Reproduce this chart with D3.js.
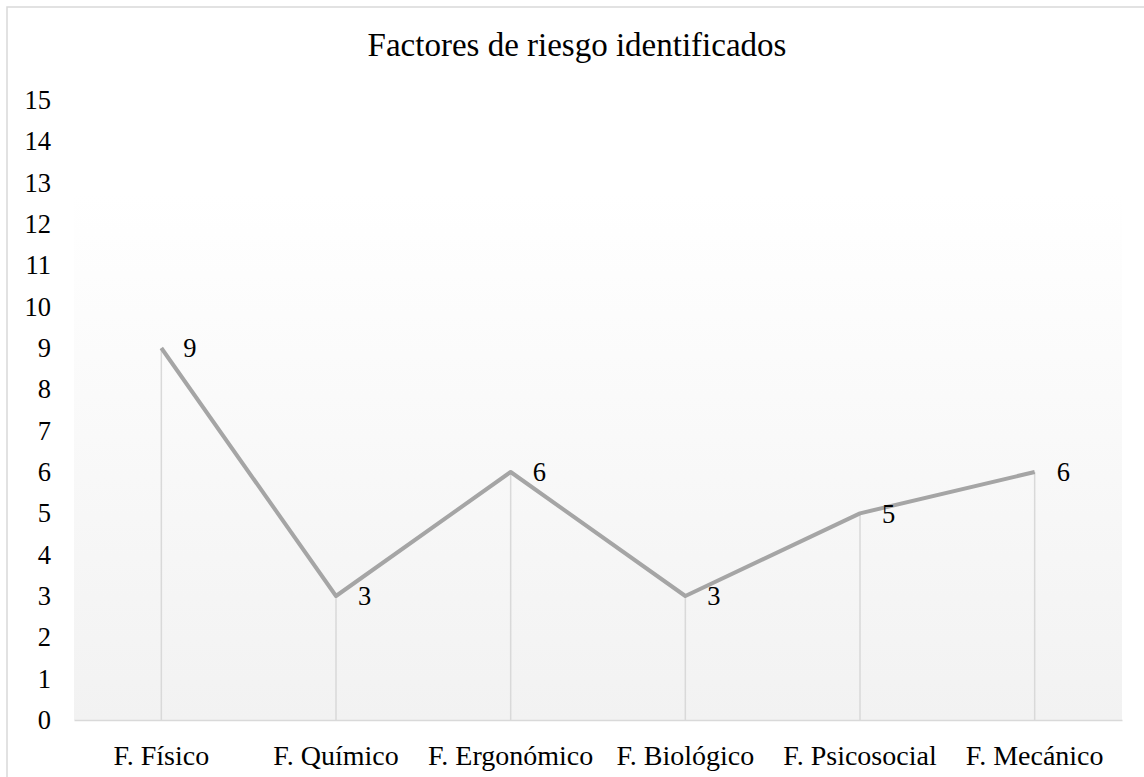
<!DOCTYPE html>
<html>
<head>
<meta charset="utf-8">
<script src="https://cdn.jsdelivr.net/npm/d3@7"></script>
<style>
  html, body { margin: 0; padding: 0; background: #fff; }
  svg { display: block; }
</style>
</head>
<body>
<svg id="chart" width="1144" height="777"></svg>
<script>
const title = "Factores de riesgo identificados";
const categories = ["F. Físico", "F. Químico", "F. Ergonómico", "F. Biológico", "F. Psicosocial", "F. Mecánico"];
const values = [9, 3, 6, 3, 5, 6];
const yTicks = [0, 1, 2, 3, 4, 5, 6, 7, 8, 9, 10, 11, 12, 13, 14, 15];

const W = 1144, H = 777;
const plot = { left: 74, right: 1122, top: 100, bottom: 720 };
const font = "'Liberation Serif', 'Times New Roman', serif";

const svg = d3.select("#chart");

const defs = svg.append("defs");
const grad = defs.append("linearGradient").attr("id", "bg")
  .attr("x1", 0).attr("y1", 0).attr("x2", 0).attr("y2", 1);
grad.append("stop").attr("offset", "0%").attr("stop-color", "#ffffff");
grad.append("stop").attr("offset", "15%").attr("stop-color", "#ffffff");
grad.append("stop").attr("offset", "100%").attr("stop-color", "#f2f2f2");

svg.append("rect").attr("x", 0).attr("y", 0).attr("width", W).attr("height", H).attr("fill", "#fff");
svg.append("rect").attr("x", 7).attr("y", 7).attr("width", W + 20).attr("height", H + 20)
  .attr("fill", "none").attr("stroke", "#d9d9d9").attr("stroke-width", 1.5);

const x = d3.scaleBand().domain(categories).range([plot.left, plot.right]);
const y = d3.scaleLinear().domain([0, 15]).range([plot.bottom, plot.top]);

svg.append("rect").attr("x", plot.left).attr("y", plot.top)
  .attr("width", plot.right - plot.left).attr("height", plot.bottom - plot.top)
  .attr("fill", "url(#bg)");

// title
svg.append("text").attr("x", 577).attr("y", 56)
  .attr("text-anchor", "middle").attr("font-family", font).attr("font-size", 33)
  .attr("fill", "#000").text(title);

// y axis labels
const yAxis = d3.axisLeft(y).tickValues(yTicks).tickSize(0).tickPadding(23);
const gy = svg.append("g").attr("transform", `translate(${plot.left},0)`).call(yAxis);
gy.select(".domain").remove();
gy.selectAll("text").attr("font-family", font).attr("font-size", 26.5).attr("fill", "#000");

// x axis
const xAxis = d3.axisBottom(x).tickSize(0).tickPadding(25);
const gx = svg.append("g").attr("transform", `translate(0,${plot.bottom})`).call(xAxis);
gx.select(".domain").attr("stroke", "#d9d9d9").attr("stroke-width", 1.5);
gx.selectAll("text").attr("font-family", font).attr("font-size", 28).attr("fill", "#000");

const cx = d => x(d) + x.bandwidth() / 2;

// drop lines
svg.append("g").selectAll("line").data(categories).join("line")
  .attr("x1", d => cx(d)).attr("x2", d => cx(d))
  .attr("y1", (d, i) => y(values[i])).attr("y2", plot.bottom)
  .attr("stroke", "#d9d9d9").attr("stroke-width", 1.5);

// line
const line = d3.line().x((d, i) => cx(categories[i])).y(d => y(d));
svg.append("path").datum(values).attr("d", line)
  .attr("fill", "none").attr("stroke", "#a5a5a5").attr("stroke-width", 4)
  .attr("stroke-linejoin", "round");

// data labels
svg.append("g").selectAll("text").data(values).join("text")
  .attr("x", (d, i) => cx(categories[i]) + 22)
  .attr("y", d => y(d))
  .attr("dy", "0.35em")
  .attr("font-family", font).attr("font-size", 26.5).attr("fill", "#000")
  .text(d => d);
</script>
</body>
</html>
